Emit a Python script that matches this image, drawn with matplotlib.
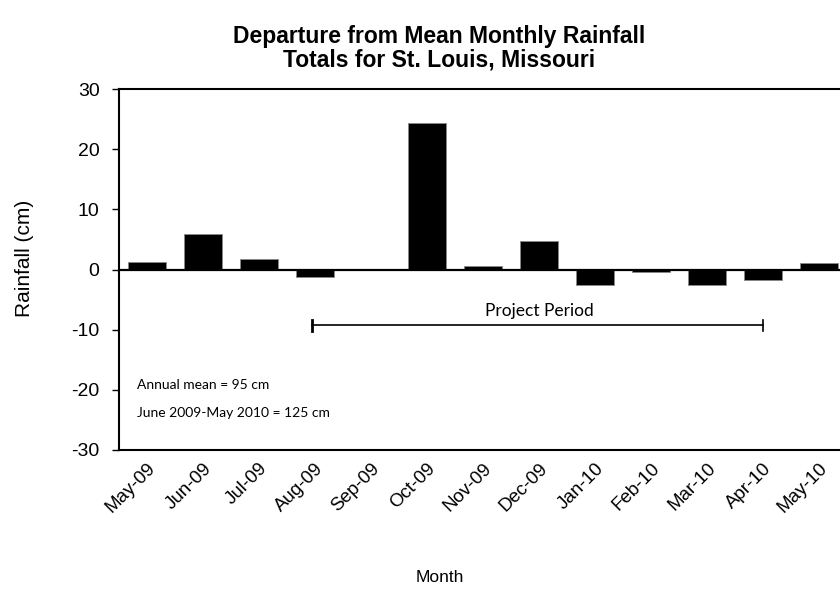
import matplotlib.pyplot as plt

months = ['May-09', 'Jun-09', 'Jul-09', 'Aug-09', 'Sep-09', 'Oct-09', 'Nov-09',
          'Dec-09', 'Jan-10', 'Feb-10', 'Mar-10', 'Apr-10', 'May-10']
departure = [1.3, 5.9, 1.8, -1.2, 0.0, 24.3, 0.5, 4.8, -2.6, -0.4, -2.5, -1.7, 1.1]

project_start = 'Aug-09'
project_end = 'Apr-10'
project_level = -9.3

notes = ['Annual mean = 95 cm', 'June 2009-May 2010 = 125 cm']

plt.rcParams['font.family'] = ['Liberation Sans', 'DejaVu Sans']
plt.rcParams['axes.unicode_minus'] = False

fig = plt.figure(figsize=(8.4, 6.07), dpi=100)
ax = fig.add_axes([119 / 840, 1 - 450 / 607, 728 / 840, 361 / 607])

x = list(range(len(months)))
ax.bar(x, departure, width=0.67, color='black', edgecolor='#888888', linewidth=0.6, zorder=3)
ax.axhline(0, color='black', linewidth=1.6, zorder=4)

ax.set_xlim(-0.5, len(months) - 0.5)
ax.set_ylim(-30, 30)
ax.set_yticks(range(-30, 31, 10))
ax.set_xticks(x)
ax.set_xticklabels(months, rotation=45, ha='right', rotation_mode='anchor', fontsize=13.5)
ax.tick_params(axis='x', length=0, pad=7)
ax.tick_params(axis='y', length=5, width=1, pad=9, labelsize=14)

for side in ['top', 'bottom', 'left']:
    ax.spines[side].set_linewidth(1.5)
ax.spines['right'].set_visible(False)

# project period bracket
i0 = months.index(project_start)
i1 = months.index(project_end)
ax.plot([i0 - 0.05, i1], [project_level, project_level], color='black', linewidth=1.2)
ax.plot([i0 - 0.05, i0 - 0.05], [project_level - 0.9, project_level + 0.9], color='black', linewidth=2)
ax.plot([i1, i1], [project_level - 0.9, project_level + 0.9], color='black', linewidth=1.2)
ax.text((i0 + i1) / 2, project_level + 1.1, 'Project Period', ha='center', va='bottom',
        fontsize=12.5, family=['Lato', 'DejaVu Sans'])

ax.text(-0.18, -19.2, notes[0], ha='left', va='center', fontsize=10, family=['Lato', 'DejaVu Sans'])
ax.text(-0.18, -23.8, notes[1], ha='left', va='center', fontsize=10, family=['Lato', 'DejaVu Sans'])

fig.text(439 / 840, 1 - 37 / 607, 'Departure from Mean Monthly Rainfall',
         ha='center', va='center', fontsize=16.5, fontweight='bold')
fig.text(439 / 840, 1 - 60 / 607, 'Totals for St. Louis, Missouri',
         ha='center', va='center', fontsize=16.5, fontweight='bold')
fig.text(24 / 840, 1 - 258 / 607, 'Rainfall (cm)', rotation=90, ha='center', va='center', fontsize=15)
fig.text(440 / 840, 1 - 578 / 607, 'Month', ha='center', va='center', fontsize=12.5)

fig.savefig('out.png', dpi=100)
